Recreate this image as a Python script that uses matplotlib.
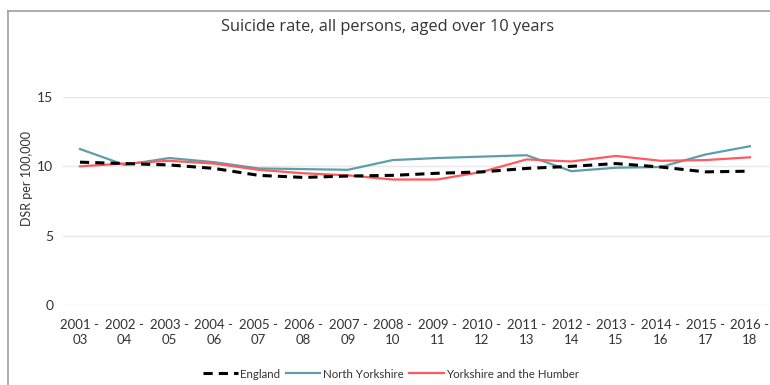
import matplotlib
matplotlib.use("Agg")
import matplotlib.pyplot as plt
from matplotlib.lines import Line2D

periods = ["2001 -\n03", "2002 -\n04", "2003 -\n05", "2004 -\n06", "2005 -\n07",
           "2006 -\n08", "2007 -\n09", "2008 -\n10", "2009 -\n11", "2010 -\n12",
           "2011 -\n13", "2012 -\n14", "2013 -\n15", "2014 -\n16", "2015 -\n17",
           "2016 -\n18"]
england = [10.3, 10.2, 10.1, 9.85, 9.35, 9.2, 9.3, 9.35, 9.5, 9.6,
           9.85, 10.0, 10.2, 9.95, 9.6, 9.65]
north_yorkshire = [11.25, 10.1, 10.6, 10.3, 9.85, 9.8, 9.75, 10.45, 10.6, 10.7,
                   10.8, 9.65, 9.9, 9.95, 10.85, 11.45]
yorks_humber = [10.0, 10.2, 10.4, 10.2, 9.75, 9.5, 9.35, 9.05, 9.05, 9.6,
                10.5, 10.35, 10.75, 10.4, 10.45, 10.65]
yticks = [0, 5, 10, 15]

plt.rcParams["font.family"] = ["Lato", "DejaVu Sans"]

fig = plt.figure(figsize=(7.7, 3.85), dpi=100)
W, H = 770, 385

# outer frame (top and left edges)
fig.add_artist(Line2D([8 / W, 1.0], [1 - 11 / H, 1 - 11 / H], color="#a0a0a0", lw=1.2))
fig.add_artist(Line2D([8 / W, 8 / W], [0, 1 - 11 / H], color="#a0a0a0", lw=1.2))

ax = fig.add_axes([63 / W, (H - 305) / H, (W - 63) / W, (305 - 97) / H])
x = list(range(len(periods)))
ax.plot(x, north_yorkshire, color="#5E9EAB", lw=1.6, label="North Yorkshire", zorder=3)
ax.plot(x, yorks_humber, color="#FD5B5F", lw=1.6, label="Yorkshire and the Humber", zorder=3)
ax.plot(x, england, color="black", lw=2.2, ls=(0, (3, 2)), label="England", zorder=4)

ax.set_xlim(-0.38, 15.45)
ax.set_ylim(0, 15)
ax.set_yticks(yticks)
ax.set_xticks(x)
ax.set_xticklabels(periods, fontsize=9.5, color="#333333", linespacing=1.3)
ax.tick_params(axis="y", labelsize=10, colors="#333333", length=0, pad=7)
ax.tick_params(axis="x", length=0, pad=10)
ax.grid(axis="y", color="#e8e8e8", lw=1)
ax.set_axisbelow(True)
for s in ax.spines.values():
    s.set_visible(False)
ax.set_ylabel("DSR per 100,000", fontsize=9, color="#333333")
ax.yaxis.set_label_coords(-30 / (W - 63), (305 - 179) / (305 - 97))

fig.text(388 / W, 1 - 27 / H, "Suicide rate, all persons, aged over 10 years",
         ha="center", va="center", fontsize=11.8, color="#333333",
         family=["Open Sans", "DejaVu Sans"])

handles = [
    Line2D([], [], color="black", lw=2.2, ls=(0, (3, 2))),
    Line2D([], [], color="#5E9EAB", lw=1.6),
    Line2D([], [], color="#FD5B5F", lw=1.6),
]
fig.legend(handles, ["England", "North Yorkshire", "Yorkshire and the Humber"],
           loc="center", bbox_to_anchor=(391 / W, 1 - 374 / H), ncol=3,
           frameon=False, handlelength=3.0, handletextpad=0.2,
           columnspacing=0.5, labelcolor="#333333", prop={"size": 8.3})

fig.savefig("out.png", dpi=100)
